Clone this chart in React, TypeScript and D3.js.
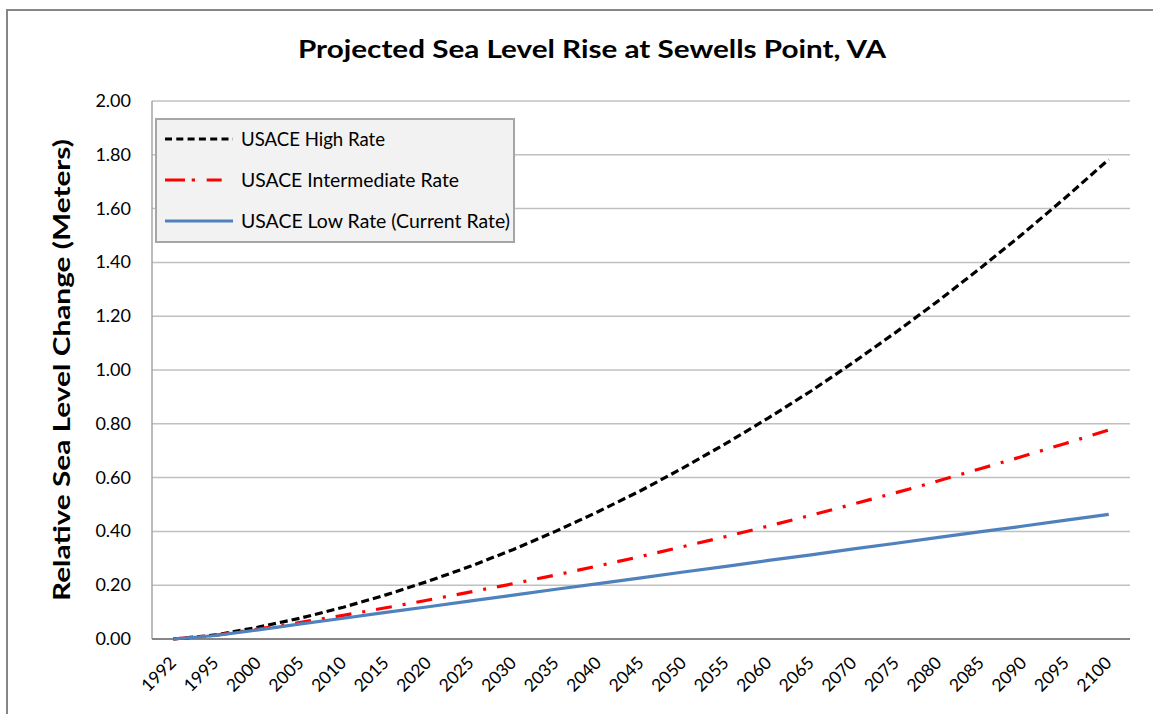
import React from "react";
import * as d3 from "d3";

const years: string[] = ["1992","1995","2000","2005","2010","2015","2020","2025","2030","2035","2040","2045","2050","2055","2060","2065","2070","2075","2080","2085","2090","2095","2100"];
const highRate: number[] = [0,0.015,0.044,0.078,0.118,0.164,0.215,0.271,0.333,0.401,0.474,0.552,0.637,0.727,0.822,0.922,1.029,1.141,1.258,1.381,1.509,1.643,1.783];
const intermediateRate: number[] = [0,0.014,0.037,0.062,0.088,0.116,0.145,0.175,0.206,0.238,0.272,0.307,0.344,0.381,0.420,0.460,0.502,0.544,0.588,0.634,0.680,0.728,0.777];
const lowRate: number[] = [0,0.013,0.034,0.056,0.077,0.099,0.120,0.142,0.163,0.185,0.206,0.227,0.249,0.270,0.292,0.313,0.335,0.356,0.378,0.399,0.420,0.442,0.463];
const yTicks: number[] = [0,0.2,0.4,0.6,0.8,1.0,1.2,1.4,1.6,1.8,2.0];
const seriesNames: string[] = ["USACE High Rate","USACE Intermediate Rate","USACE Low Rate (Current Rate)"];

const FONT = "Lato, 'Open Sans', sans-serif";

export default function App() {
  const left = 152, right = 1130, top = 101, bottom = 639;
  const x = d3.scaleBand<string>().domain(years).range([left, right]).padding(0);
  const y = d3.scaleLinear().domain([0, 2]).range([bottom, top]);
  const cx = (i: number) => (x(years[i]) as number) + x.bandwidth() / 2;
  const line = d3.line<number>().x((_, i) => cx(i)).y((d) => y(d));

  const series = [
    { name: seriesNames[0], data: highRate, color: "#000000", dash: "8,4", legendDash: "7,4.3", textLen: 144 },
    { name: seriesNames[1], data: intermediateRate, color: "#ff0000", dash: "16,11,3,11", legendDash: "20,6.7,3.3,11.7,15,100", textLen: 218 },
    { name: seriesNames[2], data: lowRate, color: "#4f81bd", dash: "none", legendDash: "none", textLen: 269 },
  ];
  const legendY = [139, 180, 221];

  return (
    <svg width={1153} height={714} style={{ position: "absolute", left: 0, top: 0, background: "#fff" }}>
      <rect x={7} y={10} width={1160} height={720} fill="#fff" stroke="#868686" strokeWidth={2} />
      <text x={592} y={58} textAnchor="middle" fontFamily={FONT} fontWeight="bold" fontSize={24} fill="#000" textLength={588} lengthAdjust="spacingAndGlyphs">
        Projected Sea Level Rise at Sewells Point, VA
      </text>
      {yTicks.map((t) => (
        <g key={t}>
          {t > 0 && <line x1={left} x2={right} y1={y(t)} y2={y(t)} stroke="#c0c0c0" strokeWidth={1.5} />}
          <text x={131} y={y(t) + 6} textAnchor="end" fontFamily={FONT} fontSize={18} fill="#000">{t.toFixed(2)}</text>
        </g>
      ))}
      <line x1={left} x2={left} y1={top} y2={bottom} stroke="#a6a6a6" strokeWidth={1.5} />
      <line x1={left} x2={right} y1={bottom} y2={bottom} stroke="#868686" strokeWidth={2} />
      <text transform={`translate(70,370) rotate(-90)`} textAnchor="middle" fontFamily={FONT} fontWeight="bold" fontSize={23} fill="#000" textLength={462} lengthAdjust="spacingAndGlyphs">
        Relative Sea Level Change (Meters)
      </text>
      {years.map((yr, i) => (
        <text key={yr} transform={`translate(${cx(i) + 4},${664}) rotate(-45)`} textAnchor="end" fontFamily={FONT} fontSize={17.5} fill="#000">{yr}</text>
      ))}
      {series.map((s) => (
        <path key={s.name} d={line(s.data) as string} fill="none" stroke={s.color} strokeWidth={3.2} strokeDasharray={s.dash} strokeLinejoin="round" />
      ))}
      <rect x={156} y={119} width={358} height={123} fill="#f2f2f2" stroke="#a6a6a6" strokeWidth={2} />
      {series.map((s, i) => (
        <g key={s.name}>
          <line x1={165} x2={233} y1={legendY[i]} y2={legendY[i]} stroke={s.color} strokeWidth={3.2} strokeDasharray={s.legendDash} />
          <text x={241} y={legendY[i] + 6.5} fontFamily={FONT} fontSize={18.5} fill="#000" textLength={s.textLen} lengthAdjust="spacingAndGlyphs">{s.name}</text>
        </g>
      ))}
    </svg>
  );
}
